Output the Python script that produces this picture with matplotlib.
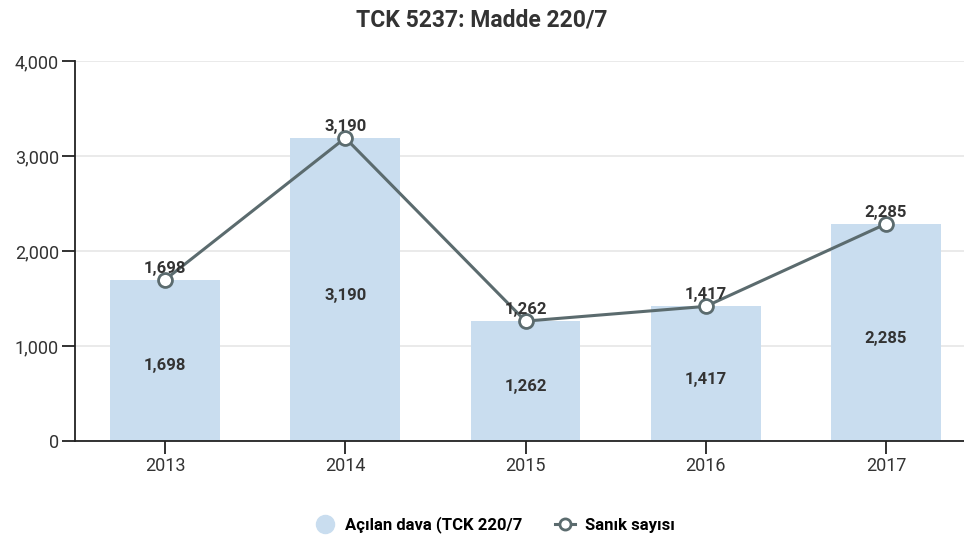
import matplotlib
matplotlib.use("Agg")
import matplotlib.pyplot as plt
from matplotlib.lines import Line2D
import numpy as np

# data
years = ["2013", "2014", "2015", "2016", "2017"]
acilan_dava = [1698, 3190, 1262, 1417, 2285]
sanik_sayisi = [1698, 3190, 1262, 1417, 2285]
yticks = [0, 1000, 2000, 3000, 4000]

plt.rcParams['font.family'] = ['Roboto', 'DejaVu Sans']

bar_color = "#c9ddef"
line_color = "#5b6b6e"
text_color = "#333333"

fig = plt.figure(figsize=(9.64, 5.43), dpi=100)
ax = fig.add_axes([75 / 964, 1 - 441 / 543, (976 - 75) / 964, (441 - 61) / 543])

x = np.arange(len(years))
ax.bar(x, acilan_dava, width=0.61, color=bar_color, zorder=2)
ax.plot(x, sanik_sayisi, color=line_color, lw=2.2, marker="o", ms=10,
        mfc="white", mec=line_color, mew=2, zorder=4)

# labels inside bars (a bit under the middle)
for xi, v in zip(x, acilan_dava):
    ax.annotate(f"{v:,}", (xi, v / 2), xytext=(0, -4), textcoords="offset points",
                ha="center", va="center", fontsize=12, fontweight="bold",
                color=text_color, zorder=5)
# labels above markers
for xi, v in zip(x, sanik_sayisi):
    ax.annotate(f"{v:,}", (xi, v), xytext=(0, 3), textcoords="offset points",
                ha="center", va="bottom", fontsize=12, fontweight="bold",
                color=text_color, zorder=5)

ax.set_xlim(-0.5, len(years) - 0.5)
ax.set_ylim(0, 4000)
ax.set_xticks(x)
ax.set_xticklabels(years)
ax.set_yticks(yticks)
ax.set_yticklabels([f"{t:,}" for t in yticks])
ax.tick_params(axis="both", labelsize=13, colors="#222222", labelcolor=text_color,
               length=9.5, width=1.3, direction="out", pad=2)
ax.grid(axis="y", color="#e6e6e6", lw=1.2, zorder=0)
ax.set_axisbelow(True)
for s in ["top", "right"]:
    ax.spines[s].set_visible(False)
for s in ["left", "bottom"]:
    ax.spines[s].set_color("#222222")
    ax.spines[s].set_linewidth(1.3)

fig.suptitle("TCK 5237: Madde 220/7", y=0.985, fontsize=16.5, fontweight="bold",
             color=text_color)

handles = [
    Line2D([], [], ls="none", marker="o", ms=13, mfc=bar_color, mec=bar_color),
    Line2D([], [], color=line_color, lw=2.2, marker="o", ms=8, mfc="white",
           mec=line_color, mew=2),
]
fig.legend(handles, ["Açılan dava (TCK 220/7", "Sanık sayısı"], loc="center",
           bbox_to_anchor=(495 / 964, 1 - 525 / 543), ncol=2, frameon=False,
           handlelength=1.2, columnspacing=2.0, handletextpad=0.6,
           prop={"weight": "bold", "size": 12})

fig.savefig("out.png", dpi=100)
